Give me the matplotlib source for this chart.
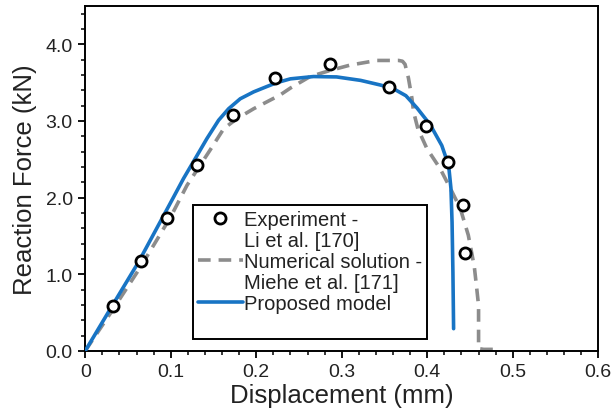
import matplotlib
matplotlib.use('Agg')
import matplotlib.pyplot as plt
from matplotlib.ticker import MultipleLocator
from matplotlib.lines import Line2D

plt.rcParams['font.family'] = ['Liberation Sans', 'DejaVu Sans']

# Experiment - Li et al. [170]
exp_x = [0.033, 0.065, 0.096, 0.131, 0.173, 0.222, 0.286, 0.355, 0.399, 0.424, 0.442, 0.444]
exp_y = [0.58, 1.17, 1.735, 2.42, 3.08, 3.555, 3.75, 3.45, 2.94, 2.46, 1.90, 1.28]

# Numerical solution - Miehe et al. [171]
num_x = [0.0, 0.03, 0.065, 0.10, 0.119, 0.146, 0.162, 0.1774, 0.197, 0.2125, 0.228, 0.240,
         0.263, 0.2865, 0.31, 0.341, 0.3665, 0.371, 0.374, 0.378, 0.382, 0.384, 0.389,
         0.3996, 0.415, 0.427, 0.4386, 0.448, 0.455, 0.458, 0.460, 0.460, 0.466, 0.482]
num_y = [0.0, 0.50, 1.10, 1.75, 2.16, 2.62, 2.90, 3.03, 3.16, 3.25, 3.34, 3.43,
         3.58, 3.66, 3.73, 3.79, 3.79, 3.78, 3.74, 3.56, 3.30, 3.12, 2.90,
         2.64, 2.38, 2.12, 1.86, 1.51, 1.10, 0.80, 0.59, 0.03, 0.02, 0.02]

# Proposed model
mod_x = [0.0, 0.03, 0.0624, 0.103, 0.115, 0.1287, 0.1423, 0.156, 0.1677, 0.1813, 0.197,
         0.2125, 0.224, 0.240, 0.267, 0.294, 0.322, 0.345, 0.3606, 0.375, 0.388, 0.4035,
         0.417, 0.425, 0.4277, 0.429, 0.430, 0.4308]
mod_y = [0.0, 0.56, 1.16, 2.00, 2.25, 2.51, 2.77, 3.01, 3.16, 3.29, 3.38,
         3.45, 3.50, 3.55, 3.58, 3.575, 3.53, 3.47, 3.42, 3.33, 3.17, 2.95,
         2.68, 2.42, 2.12, 1.68, 1.03, 0.29]

blue = '#1874c4'
grey = '#8c8c8c'
txt = '#222222'

fig = plt.figure(figsize=(6.13, 4.14), dpi=100)
ax = fig.add_axes([0.139, 0.150, 0.837, 0.833])

num_line, = ax.plot(num_x, num_y, color=grey, lw=2.6, dashes=(3.5, 2.2),
                    solid_capstyle='butt', zorder=2)
mod_line, = ax.plot(mod_x, mod_y, color=blue, lw=2.6, solid_capstyle='round',
                    solid_joinstyle='round', zorder=3)
exp_pts, = ax.plot(exp_x, exp_y, 'o', ms=8, mfc='white', mec='black', mew=2.0, zorder=4)

ax.set_xlim(0, 0.6)
ax.set_ylim(0, 4.5)
ax.xaxis.set_minor_locator(MultipleLocator(0.02))
ax.yaxis.set_minor_locator(MultipleLocator(0.2))
ax.set_xticks([0, 0.1, 0.2, 0.3, 0.4, 0.5, 0.6])
ax.set_xticklabels(['0', '0.1', '0.2', '0.3', '0.4', '0.5', '0.6'])
ax.set_yticks([0, 1, 2, 3, 4])
ax.set_yticklabels(['0.0', '1.0', '2.0', '3.0', '4.0'])

ax.tick_params(which='major', direction='out', length=5, width=1.3, labelsize=14,
               labelcolor=txt, pad=4)
ax.tick_params(which='minor', direction='out', length=3, width=1.1)
for s in ax.spines.values():
    s.set_linewidth(1.4)
    s.set_color('black')

ax.set_xlabel('Displacement (mm)', fontsize=18.5, color=txt, labelpad=2)
ax.set_ylabel('Reaction Force (kN)', fontsize=18.5, color=txt, labelpad=6)

blank = Line2D([], [], color='none')
handles = [exp_pts, blank, num_line, blank, mod_line, blank]
labels = ['Experiment -', 'Li et al. [170]', 'Numerical solution -',
          'Miehe et al. [171]', 'Proposed model', ' ']
leg = ax.legend(handles, labels, loc='upper left', bbox_to_anchor=(0.2105, 0.423),
                fontsize=14.5, frameon=True, fancybox=False, edgecolor='black',
                framealpha=1, handlelength=2.2, handletextpad=0.05, labelspacing=0.1,
                borderpad=0.25, borderaxespad=0)
leg.get_frame().set_linewidth(1.4)
for t in leg.get_texts():
    t.set_color(txt)

fig.savefig('out.png', dpi=100)
